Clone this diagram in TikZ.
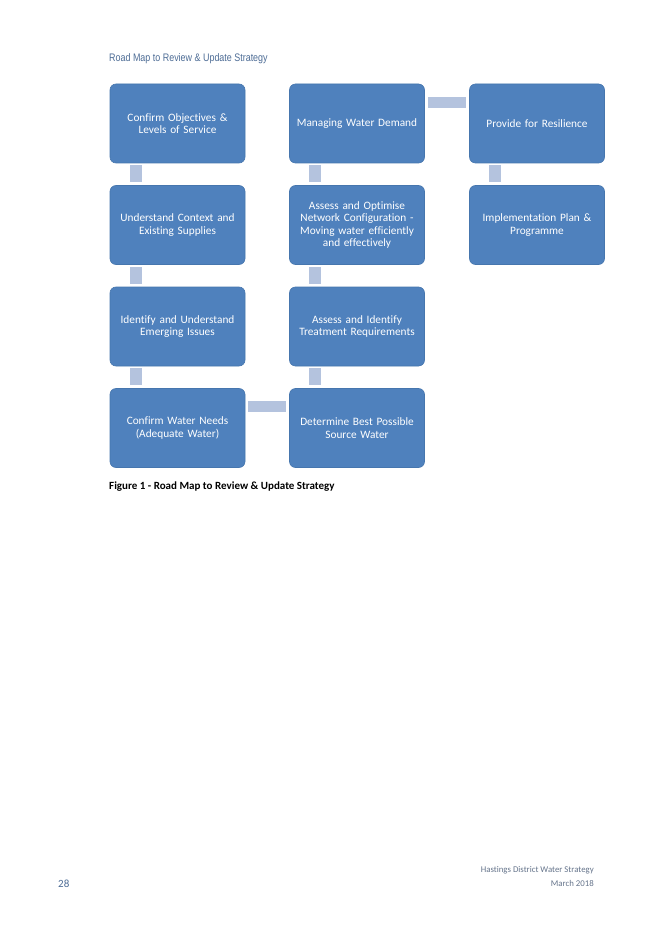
\documentclass[tikz,border=0pt]{standalone}
\usepackage{fontspec}
\setmainfont[Ligatures=NoCommon]{Carlito}
\newfontfamily\titlefont[FakeStretch=0.82]{Liberation Sans}
\usetikzlibrary{calc}
\definecolor{boxfill}{HTML}{4F81BD}
\definecolor{boxline}{HTML}{4676AE}
\definecolor{connfill}{HTML}{B4C3DE}
\definecolor{titlecol}{HTML}{4E6D96}
\definecolor{footcol}{HTML}{66758C}
\begin{document}
\begin{tikzpicture}[x=1pt,y=-1pt,
  stepbox/.style={draw=boxline,line width=0.6pt,fill=boxfill,rounded corners=6pt,
    minimum width=133pt,minimum height=79pt,inner sep=2pt,
    text=white,align=center,text width=131pt,
    font=\fontsize{11.3}{12.5}\selectfont},
  conn/.style={fill=connfill}]
\useasboundingbox[fill=white] (0,0) rectangle (656,928);
\node[anchor=west,text=titlecol,font=\titlefont\fontsize{10.9}{12}\selectfont,inner sep=0pt] (title) at (109,59) {Road Map to Review \& Update Strategy};
% boxes
\node[stepbox] (b1) at (177.5,123.5) {Confirm Objectives \&\\Levels of Service};
\node[stepbox] (b2) at (177.5,225) {Understand Context and\\Existing Supplies};
\node[stepbox] (b3) at (177.5,326.5) {Identify and Understand\\Emerging Issues};
\node[stepbox] (b4) at (177.5,428) {Confirm Water Needs\\(Adequate Water)};
\node[stepbox] (b5) at (357,428) {Determine Best Possible\\Source Water};
\node[stepbox] (b6) at (357,326.5) {Assess and Identify\\Treatment Requirements};
\node[stepbox] (b7) at (357,225) {Assess and Optimise\\Network Configuration -\\Moving water efficiently\\and effectively};
\node[stepbox] (b8) at (357,123.5) {Managing Water Demand};
\node[stepbox] (b9) at (537,123.5) {Provide for Resilience};
\node[stepbox] (b10) at (537,225) {Implementation Plan \&\\Programme};
% connectors
\fill[conn] ($(b1.south west)+(20,2)$) rectangle ($(b2.north west)+(32,-3)$);
\fill[conn] ($(b2.south west)+(20,2)$) rectangle ($(b3.north west)+(32,-3)$);
\fill[conn] ($(b3.south west)+(20,2)$) rectangle ($(b4.north west)+(32,-3)$);
\fill[conn] ($(b4.north east)+(3,13)$) rectangle ($(b5.north west)+(-3,24)$);
\fill[conn] ($(b6.south west)+(20,2)$) rectangle ($(b5.north west)+(32,-3)$);
\fill[conn] ($(b7.south west)+(20,2)$) rectangle ($(b6.north west)+(32,-3)$);
\fill[conn] ($(b8.south west)+(20,2)$) rectangle ($(b7.north west)+(32,-3)$);
\fill[conn] ($(b8.north east)+(3,13)$) rectangle ($(b9.north west)+(-3,24)$);
\fill[conn] ($(b9.south west)+(20,2)$) rectangle ($(b10.north west)+(32,-3)$);
% caption
\node[anchor=west,inner sep=0pt,font=\bfseries\fontsize{11}{12}\selectfont] (cap) at (109,487) {Figure 1 - Road Map to Review \& Update Strategy};
% footer
\node[anchor=east,inner sep=0pt,text=footcol,font=\fontsize{8.8}{10}\selectfont,align=right] (f1) at (594,870.5) {Hastings District Water Strategy};
\node[anchor=east,inner sep=0pt,text=footcol,font=\fontsize{8.8}{10}\selectfont,align=right] (f2) at (594,883.5) {March 2018};
\node[anchor=west,inner sep=0pt,text=titlecol,font=\fontsize{11}{12}\selectfont] (pg) at (58,883.5) {28};
\end{tikzpicture}
\end{document}
